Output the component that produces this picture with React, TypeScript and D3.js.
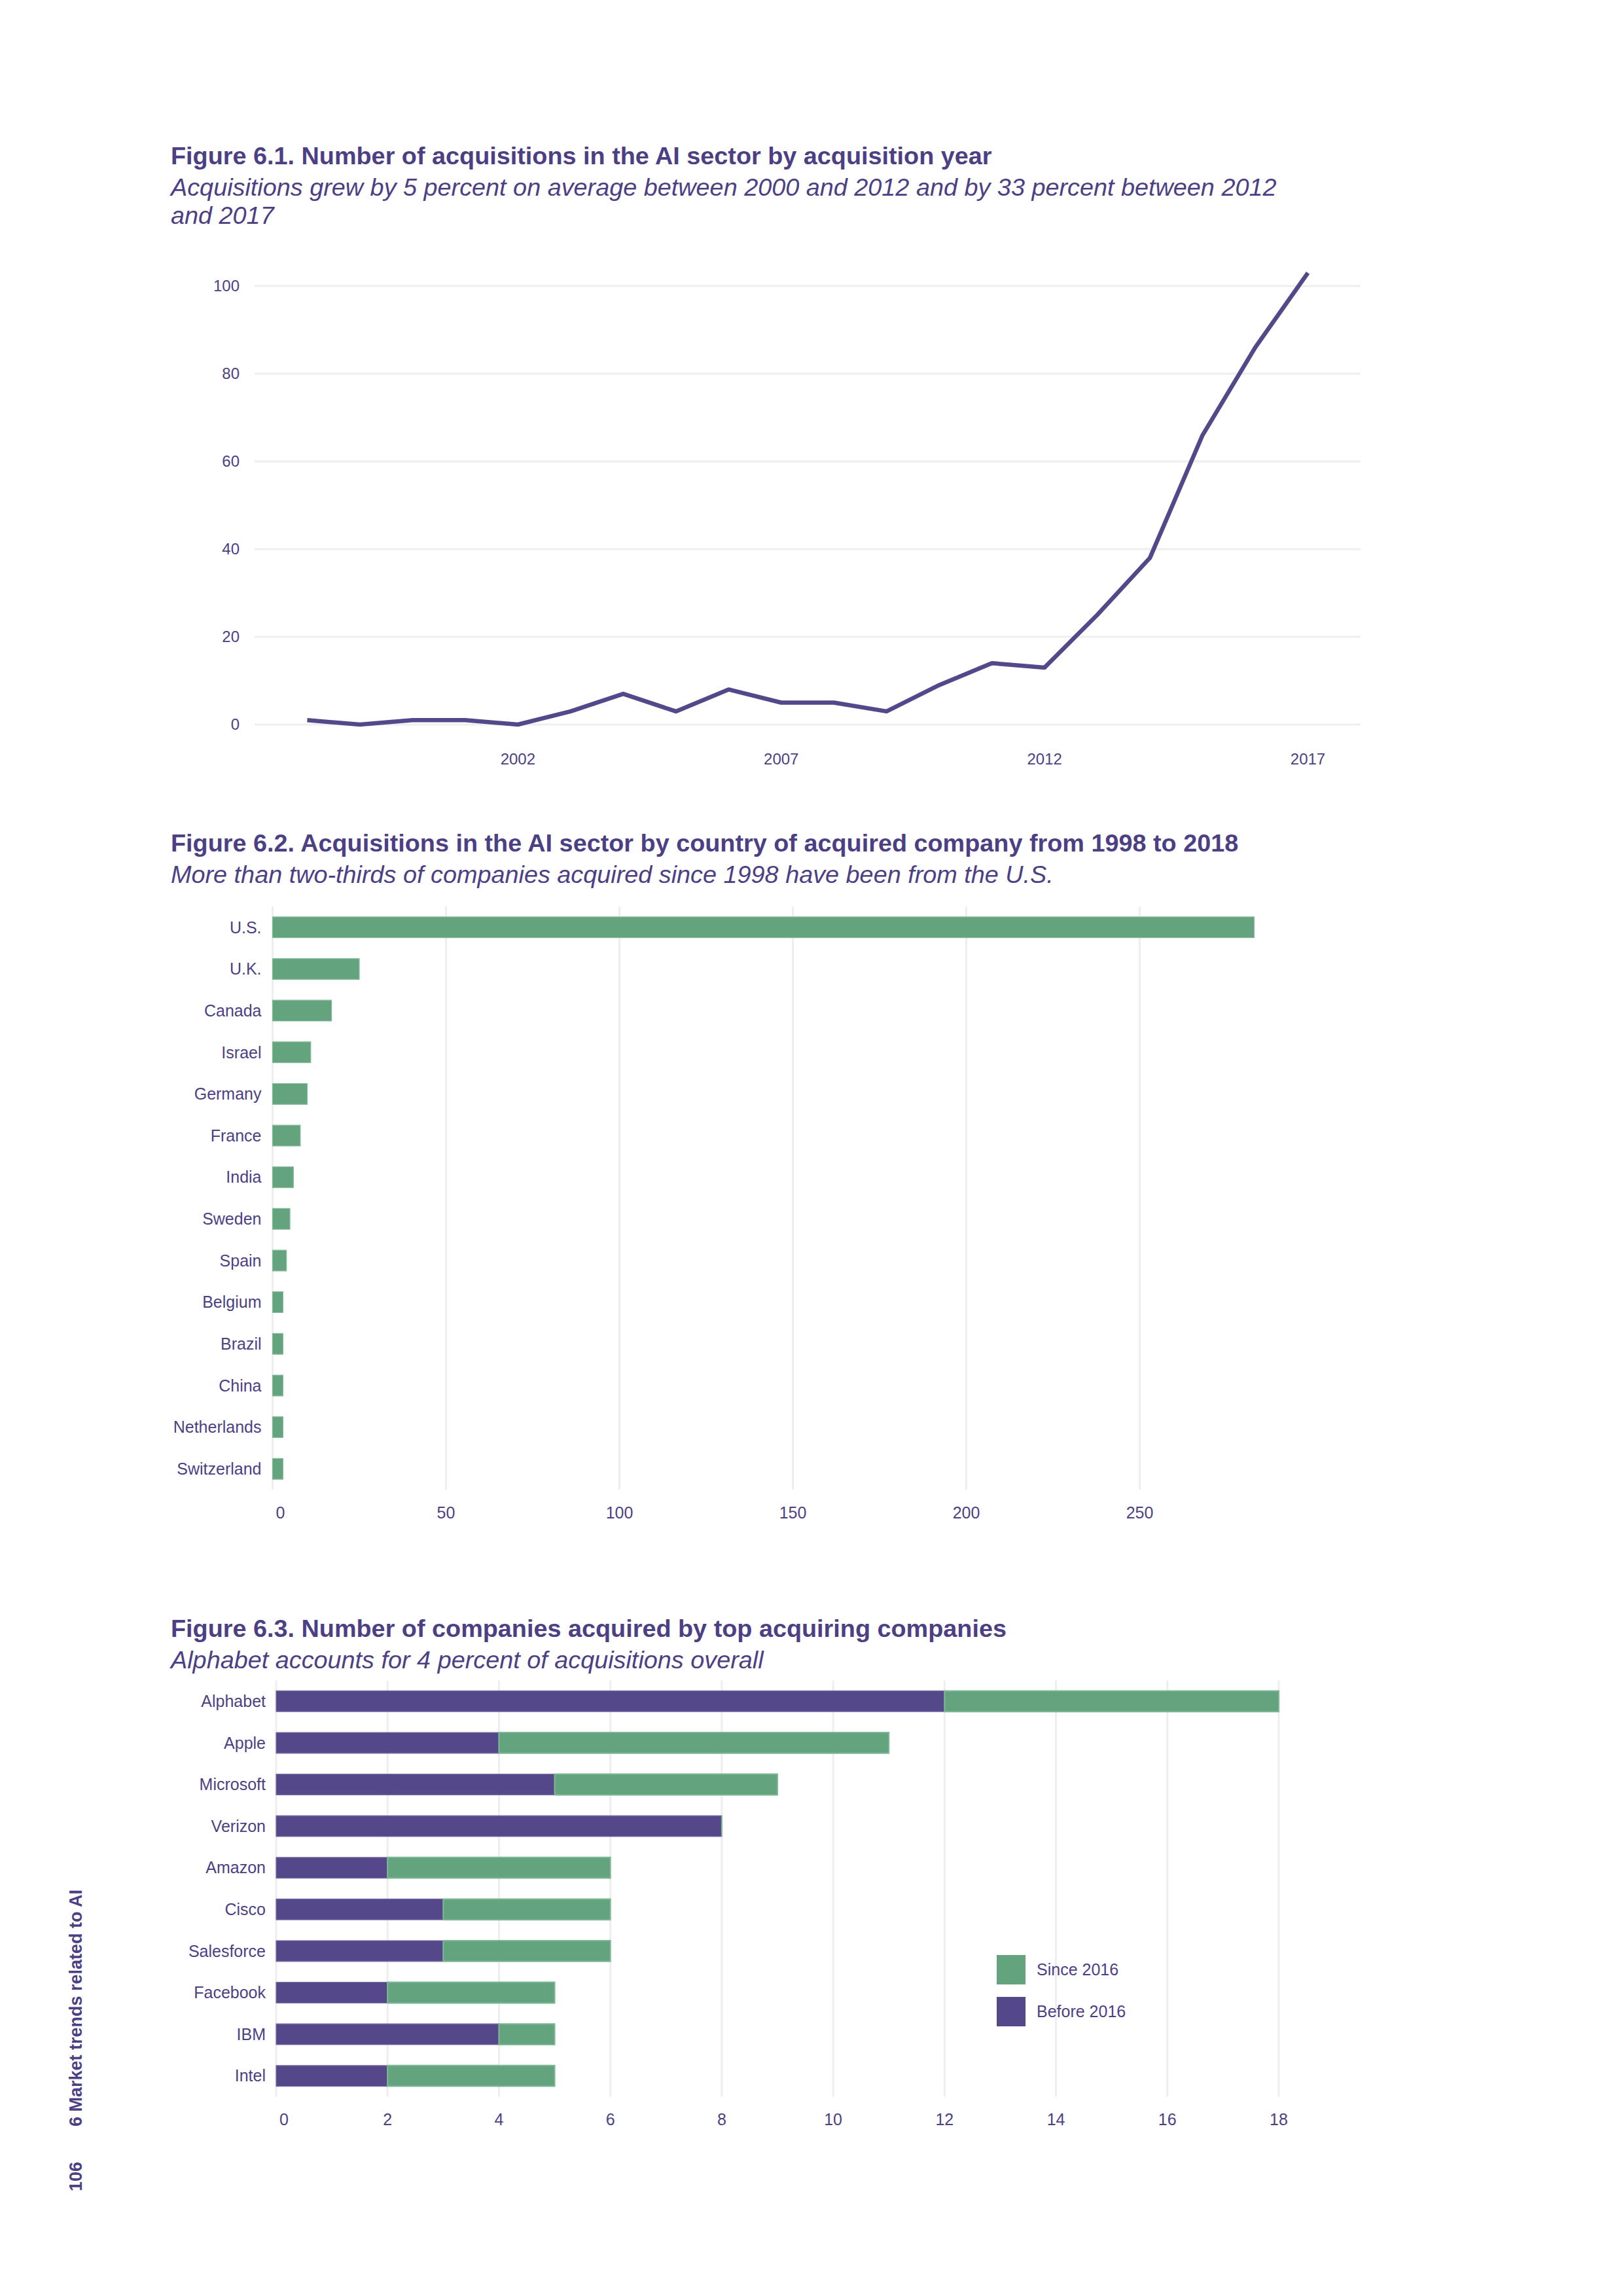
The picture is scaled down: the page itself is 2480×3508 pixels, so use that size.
import React from "react";
import * as d3 from "d3";

// ---------- data ----------
const years = [1998, 1999, 2000, 2001, 2002, 2003, 2004, 2005, 2006, 2007, 2008, 2009, 2010, 2011, 2012, 2013, 2014, 2015, 2016, 2017];
const acquisitions = [1, 0, 1, 1, 0, 3, 7, 3, 8, 5, 5, 3, 9, 14, 13, 25, 38, 66, 86, 103];
const yTicks1 = [0, 20, 40, 60, 80, 100];
const xTicks1 = [2002, 2007, 2012, 2017];

const countries = ["U.S.", "U.K.", "Canada", "Israel", "Germany", "France", "India", "Sweden", "Spain", "Belgium", "Brazil", "China", "Netherlands", "Switzerland"];
const countryCounts = [283, 25, 17, 11, 10, 8, 6, 5, 4, 3, 3, 3, 3, 3];
const xTicks2 = [0, 50, 100, 150, 200, 250];

const companies = ["Alphabet", "Apple", "Microsoft", "Verizon", "Amazon", "Cisco", "Salesforce", "Facebook", "IBM", "Intel"];
const before2016 = [12, 4, 5, 8, 2, 3, 3, 2, 4, 2];
const since2016 = [6, 7, 4, 0, 4, 3, 3, 3, 1, 3];
const seriesNames = ["Before 2016", "Since 2016"];
const xTicks3 = [0, 2, 4, 6, 8, 10, 12, 14, 16, 18];

// ---------- style ----------
const TEXT = "#4d3f84";
const PURPLE = "#55488a";
const GREEN = "#63a47f";
const GRID = "#eeeeee";
const FONT = "'Liberation Sans', Arial, Helvetica, sans-serif";

function barPath(x0: number, x1: number, y0: number, h: number) {
  const p = d3.path();
  p.moveTo(x0, y0);
  p.lineTo(x1, y0);
  p.lineTo(x1, y0 + h);
  p.lineTo(x0, y0 + h);
  p.closePath();
  return p.toString();
}

function Titles({ y, title, sub }: { y: number; title: string; sub: string[] }) {
  return (
    <g fontFamily={FONT} fill={TEXT}>
      <text x={261} y={y} fontSize={37.8} fontWeight="bold">{title}</text>
      {sub.map((s, i) => (
        <text key={i} x={261} y={y + 48 + i * 43} fontSize={37.8} fontStyle="italic">{s}</text>
      ))}
    </g>
  );
}

function LineChart() {
  const x = d3.scaleLinear().domain([1997, 2018]).range([389, 2079]);
  const y = d3.scaleLinear().domain([0, 100]).range([1107, 437]);
  const line = d3.line<number>().x((_, i) => x(years[i])).y((d) => y(d));
  return (
    <g fontFamily={FONT}>
      {yTicks1.map((t) => (
        <g key={t}>
          <line x1={x.range()[0]} x2={x.range()[1]} y1={y(t)} y2={y(t)} stroke={GRID} strokeWidth={3} />
          <text x={366} y={y(t)} dy="0.35em" textAnchor="end" fontSize={24} fill={TEXT}>{t}</text>
        </g>
      ))}
      {xTicks1.map((t) => (
        <text key={t} x={x(t)} y={1168} textAnchor="middle" fontSize={24} fill={TEXT}>{t}</text>
      ))}
      <path d={line(acquisitions) || ""} fill="none" stroke={PURPLE} strokeWidth={6.5} strokeLinejoin="round" />
    </g>
  );
}

function CountryChart() {
  const yb = d3.scaleBand<string>().domain(countries).range([1385, 2276]).paddingInner(0.5).paddingOuter(0.25);
  const x = d3.scaleLinear().domain([0, 250]).range([416.5, 1741.5]);
  const [y0, y1] = yb.range();
  return (
    <g fontFamily={FONT}>
      {xTicks2.map((t) => (
        <g key={t}>
          <line x1={x(t)} x2={x(t)} y1={y0} y2={y1} stroke={GRID} strokeWidth={3} />
          <text x={x(t) + (t === 0 ? 12 : 0)} y={2320} textAnchor="middle" fontSize={25} fill={TEXT}>{t}</text>
        </g>
      ))}
      {countries.map((c, i) => (
        <g key={c}>
          <path d={barPath(x(0), x(countryCounts[i]), yb(c)!, yb.bandwidth())} fill={GREEN} stroke="#86bb9b" strokeWidth={1.2} />
          <text x={x(0) - 17} y={yb(c)! + yb.bandwidth() / 2} dy="0.35em" textAnchor="end" fontSize={25} fill={TEXT}>{c}</text>
        </g>
      ))}
    </g>
  );
}

function CompanyChart() {
  const yb = d3.scaleBand<string>().domain(companies).range([2567.5, 3203.5]).paddingInner(0.5).paddingOuter(0.25);
  const x = d3.scaleLinear().domain([0, 18]).range([422, 1954]);
  const rows = companies.map((c, i) => ({ company: c, "Before 2016": before2016[i], "Since 2016": since2016[i] }));
  const stacked = d3.stack<any>().keys(seriesNames)(rows);
  const color = d3.scaleOrdinal<string, string>().domain(seriesNames).range([PURPLE, GREEN]);
  const strokeColor = d3.scaleOrdinal<string, string>().domain(seriesNames).range(["#7a6ea6", "#7fb896"]);
  const [y0, y1] = yb.range();
  const legend = ["Since 2016", "Before 2016"];
  return (
    <g fontFamily={FONT}>
      {xTicks3.map((t) => (
        <g key={t}>
          <line x1={x(t)} x2={x(t)} y1={y0} y2={y1} stroke={GRID} strokeWidth={3} />
          <text x={x(t) + (t === 0 ? 12 : 0)} y={3247} textAnchor="middle" fontSize={25} fill={TEXT}>{t}</text>
        </g>
      ))}
      {stacked.map((s) => (
        <g key={s.key}>
          {s.map((d, i) => (
            <path key={i} d={barPath(x(d[0]), x(d[1]), yb(companies[i])!, yb.bandwidth())} fill={color(s.key)} stroke={strokeColor(s.key)} strokeWidth={s.key === "Since 2016" ? 2 : 1.2} />
          ))}
        </g>
      ))}
      {companies.map((c) => (
        <text key={c} x={x(0) - 16} y={yb(c)! + yb.bandwidth() / 2} dy="0.35em" textAnchor="end" fontSize={25} fill={TEXT}>{c}</text>
      ))}
      {legend.map((k, i) => (
        <g key={k}>
          <rect x={1523} y={2987 + i * 64} width={44} height={45} fill={color(k)} />
          <text x={1584} y={2987 + i * 64 + 22.5} dy="0.35em" fontSize={25} fill={TEXT}>{k}</text>
        </g>
      ))}
    </g>
  );
}

export default function App() {
  return (
    <svg width={2480} height={3508} viewBox="0 0 2480 3508" style={{ position: "absolute", left: 0, top: 0, display: "block", background: "#fff" }}>
      <rect width={2480} height={3508} fill="#fff" />
      <Titles y={251} title="Figure 6.1. Number of acquisitions in the AI sector by acquisition year" sub={["Acquisitions grew by 5 percent on average between 2000 and 2012 and by 33 percent between 2012", "and 2017"]} />
      <LineChart />
      <Titles y={1301} title="Figure 6.2. Acquisitions in the AI sector by country of acquired company from 1998 to 2018" sub={["More than two-thirds of companies acquired since 1998 have been from the U.S."]} />
      <CountryChart />
      <Titles y={2501} title="Figure 6.3. Number of companies acquired by top acquiring companies" sub={["Alphabet accounts for 4 percent of acquisitions overall"]} />
      <CompanyChart />
      <g fontFamily={FONT} fill={TEXT} fontWeight="bold" fontSize={27}>
        <text transform="translate(125,3249) rotate(-90)">6 Market trends related to AI</text>
        <text transform="translate(125,3348) rotate(-90)">106</text>
      </g>
    </svg>
  );
}
